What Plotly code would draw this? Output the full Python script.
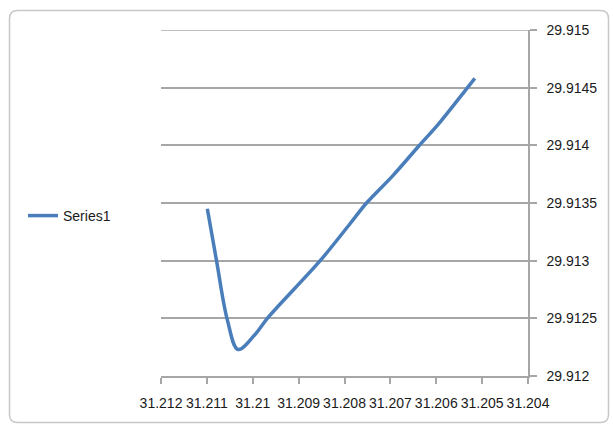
import plotly.graph_objects as go

# Data (x reversed axis)
series_name = "Series1"
x_vals = [31.21099, 31.21079, 31.21055, 31.21032, 31.20995, 31.20966,
          31.20853, 31.20788, 31.20752, 31.20694, 31.20639, 31.20592, 31.20534, 31.20516]
y_vals = [29.91345, 29.91300, 29.91248, 29.91223, 29.91236, 29.91251,
          29.91300, 29.91332, 29.91350, 29.91374, 29.91399, 29.91420, 29.91449, 29.91458]

x_tick_vals = [31.212, 31.211, 31.210, 31.209, 31.208, 31.207, 31.206, 31.205, 31.204]
x_tick_text = ["31.212", "31.211", "31.21", "31.209", "31.208", "31.207", "31.206", "31.205", "31.204"]
y_tick_vals = [29.912, 29.9125, 29.913, 29.9135, 29.914, 29.9145, 29.915]
y_tick_text = ["29.912", "29.9125", "29.913", "29.9135", "29.914", "29.9145", "29.915"]

W, H = 613, 427
L, R, T, B = 161, 85, 30, 51
pw, ph = W - L - R, H - T - B

def px2paper_x(px):
    return (px - L) / pw

def px2paper_y(py):
    return (H - B - py) / ph

fig = go.Figure()
fig.add_trace(go.Scatter(
    x=x_vals, y=y_vals, mode="lines", name=series_name,
    line=dict(color="#4A7EBB", width=3.5, shape="spline", smoothing=1.0),
    showlegend=True,
))

font = dict(family="Liberation Sans, Arial, sans-serif", size=14, color="#1a1a1a")

# Rounded chart border (path in paper coordinates)
x0, x1 = px2paper_x(9.5), px2paper_x(608.5)
y0, y1 = px2paper_y(422.5), px2paper_y(10.5)
rx = 8 / pw
ry = 8 / ph
border = (f"M {x0+rx},{y1} L {x1-rx},{y1} Q {x1},{y1} {x1},{y1-ry} "
          f"L {x1},{y0+ry} Q {x1},{y0} {x1-rx},{y0} "
          f"L {x0+rx},{y0} Q {x0},{y0} {x0},{y0+ry} "
          f"L {x0},{y1-ry} Q {x0},{y1} {x0+rx},{y1} Z")

grid_color = "#A6A6A6"
fig.update_layout(
    width=W, height=H,
    margin=dict(l=L, r=R, t=T, b=B, pad=0),
    paper_bgcolor="white", plot_bgcolor="white",
    font=font,
    showlegend=True,
    legend=dict(x=px2paper_x(23), y=px2paper_y(216), xanchor="left", yanchor="middle",
                font=font, bgcolor="rgba(0,0,0,0)", borderwidth=0),
    shapes=[
        dict(type="path", path=border, xref="paper", yref="paper",
             line=dict(color="#C8C8C8", width=1.5), layer="below"),
        dict(type="line", xref="paper", yref="y", x0=0, x1=1,
             y0=y_tick_vals[-1], y1=y_tick_vals[-1],
             line=dict(color=grid_color, width=1.5), layer="below"),
    ],
    xaxis=dict(
        range=[31.212, 31.204], tickmode="array", tickvals=x_tick_vals, ticktext=x_tick_text,
        showgrid=False, zeroline=False, showline=True, linecolor=grid_color, linewidth=1.5,
        ticks="outside", ticklen=6, tickcolor=grid_color, tickwidth=1.5, tickangle=0,
        ticklabelstandoff=7, tickfont=font,
    ),
    yaxis=dict(
        range=[29.912, 29.915], side="right", tickmode="array", tickvals=y_tick_vals,
        ticktext=y_tick_text, showgrid=True, gridcolor=grid_color, gridwidth=1.5,
        zeroline=False, showline=True, linecolor=grid_color, linewidth=1.5,
        ticks="outside", ticklen=7, tickcolor=grid_color, tickwidth=1.5,
        ticklabelstandoff=7, tickfont=font,
    ),
)

fig.write_html("out.html")
